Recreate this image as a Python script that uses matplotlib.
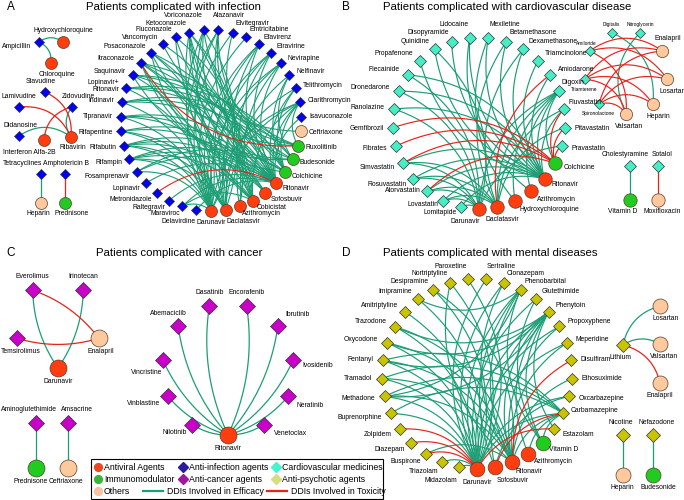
import numpy as np
import matplotlib.pyplot as plt
from matplotlib.patches import Rectangle

plt.rcParams['font.family'] = ['Liberation Sans', 'DejaVu Sans']

# ---------------- drug classes ----------------
COLOR = {'antiviral': '#ff3d0f', 'immuno': '#1fcc1f', 'other': '#fdc99d',
         'infection': '#0000f5', 'cardio': '#45eec5', 'cancer': '#c800c8',
         'psych': '#c8c400'}
EFF = '#1c9e74'
TOX = '#e8231c'

circle_class = {
    'Darunavir': 'antiviral', 'Daclatasvir': 'antiviral', 'Azithromycin': 'antiviral',
    'Cobicistat': 'antiviral', 'Sofosbuvir': 'antiviral', 'Ritonavir': 'antiviral',
    'Hydroxychloroquine': 'antiviral', 'Chloroquine': 'antiviral', 'Ribavirin': 'antiviral',
    'Interferon Alfa-2B': 'antiviral',
    'Ruxolitinib': 'immuno', 'Budesonide': 'immuno', 'Colchicine': 'immuno',
    'Prednisone': 'immuno', 'Vitamin D': 'immuno',
    'Ceftriaxone': 'other', 'Heparin': 'other', 'Enalapril': 'other',
    'Losartan': 'other', 'Valsartan': 'other', 'Moxifloxacin': 'other',
}

# ---------------- A: infection ----------------
a_ring = ['Darunavir', 'Delavirdine', 'Maraviroc', 'Raltegravir', 'Metronidazole', 'Lopinavir',
          'Fosamprenavir', 'Rifampin', 'Rifabutin', 'Rifapentine', 'Tipranavir', 'Indinavir',
          'Lopinavir+Ritonavir', 'Saquinavir', 'Itraconazole', 'Posaconazole', 'Vancomycin',
          'Fluconazole', 'Ketoconazole', 'Voriconazole', 'Atazanavir', 'Elvitegravir',
          'Emtricitabine', 'Efavirenz', 'Etravirine', 'Nevirapine', 'Nelfinavir', 'Telithromycin',
          'Clarithromycin', 'Isavuconazole', 'Ceftriaxone', 'Ruxolitinib', 'Budesonide',
          'Colchicine', 'Ritonavir', 'Sofosbuvir', 'Cobicistat', 'Azithromycin', 'Daclatasvir']
a_eff = {
    'Ritonavir': ['Saquinavir', 'Indinavir', 'Tipranavir', 'Lopinavir', 'Fosamprenavir', 'Rifampin',
                  'Rifabutin', 'Rifapentine', 'Itraconazole', 'Ketoconazole', 'Voriconazole',
                  'Posaconazole', 'Fluconazole', 'Atazanavir', 'Elvitegravir', 'Efavirenz',
                  'Nevirapine', 'Etravirine', 'Clarithromycin', 'Telithromycin', 'Isavuconazole',
                  'Maraviroc', 'Delavirdine', 'Raltegravir', 'Lopinavir+Ritonavir'],
    'Darunavir': ['Lopinavir+Ritonavir', 'Saquinavir', 'Indinavir', 'Itraconazole', 'Posaconazole',
                  'Ketoconazole', 'Voriconazole', 'Atazanavir', 'Elvitegravir', 'Efavirenz',
                  'Etravirine', 'Nevirapine', 'Clarithromycin', 'Rifampin', 'Rifabutin',
                  'Rifapentine', 'Tipranavir', 'Fosamprenavir', 'Maraviroc', 'Emtricitabine'],
    'Daclatasvir': ['Rifampin', 'Rifabutin', 'Rifapentine', 'Efavirenz', 'Etravirine', 'Nevirapine',
                    'Atazanavir', 'Ketoconazole', 'Itraconazole', 'Voriconazole', 'Posaconazole',
                    'Clarithromycin', 'Telithromycin'],
    'Cobicistat': ['Itraconazole', 'Ketoconazole', 'Voriconazole', 'Posaconazole', 'Clarithromycin',
                   'Rifampin', 'Rifabutin', 'Efavirenz', 'Etravirine', 'Nevirapine', 'Maraviroc',
                   'Tipranavir', 'Saquinavir'],
    'Sofosbuvir': ['Rifampin', 'Rifabutin', 'Rifapentine', 'Tipranavir'],
    'Azithromycin': ['Nelfinavir', 'Fluconazole', 'Vancomycin'],
    'Colchicine': ['Clarithromycin', 'Telithromycin', 'Ketoconazole', 'Itraconazole', 'Indinavir',
                   'Saquinavir', 'Lopinavir+Ritonavir', 'Atazanavir', 'Fosamprenavir', 'Nelfinavir'],
    'Budesonide': ['Ketoconazole', 'Itraconazole', 'Saquinavir', 'Indinavir',
                   'Lopinavir+Ritonavir', 'Nelfinavir', 'Atazanavir'],
    'Ruxolitinib': ['Ketoconazole', 'Fluconazole', 'Clarithromycin', 'Voriconazole', 'Posaconazole'],
    'Ceftriaxone': ['Vancomycin'],
}
a_tox = [('Itraconazole', 'Ruxolitinib'), ('Metronidazole', 'Ritonavir')]

a_tri = ['Chloroquine', 'Ampicillin', 'Hydroxychloroquine']
a_tri_eff = [('Ampicillin', 'Hydroxychloroquine'), ('Ampicillin', 'Chloroquine')]

a_nrti = ['Stavudine', 'Lamivudine', 'Zidovudine', 'Didanosine', 'Interferon Alfa-2B', 'Ribavirin']
a_nrti_eff = [('Zidovudine', 'Ribavirin'), ('Didanosine', 'Ribavirin')]
a_nrti_tox = [('Stavudine', 'Ribavirin'), ('Lamivudine', 'Ribavirin'),
              ('Zidovudine', 'Interferon Alfa-2B')]

a_pairs = [('Tetracyclines', 'Heparin', 'eff'), ('Amphotericin B', 'Prednisone', 'tox')]

# ---------------- B: cardiovascular ----------------
b_ring = ['Darunavir', 'Lomitapide', 'Lovastatin', 'Atorvastatin', 'Rosuvastatin', 'Simvastatin',
          'Fibrates', 'Gemfibrozil', 'Ranolazine', 'Dronedarone', 'Flecainide', 'Propafenone',
          'Quinidine', 'Disopyramide', 'Lidocaine', 'Mexiletine', 'Betamethasone',
          'Dexamethasone', 'Triamcinolone', 'Amiodarone', 'Digoxin', 'Fluvastatin',
          'Pitavastatin', 'Pravastatin', 'Colchicine', 'Ritonavir', 'Azithromycin',
          'Hydroxychloroquine', 'Daclatasvir']
b_eff = {
    'Ritonavir': ['Lomitapide', 'Lovastatin', 'Atorvastatin', 'Rosuvastatin', 'Simvastatin',
                  'Ranolazine', 'Dronedarone', 'Flecainide', 'Propafenone', 'Quinidine',
                  'Disopyramide', 'Lidocaine', 'Mexiletine', 'Betamethasone', 'Dexamethasone',
                  'Triamcinolone', 'Digoxin', 'Amiodarone', 'Fluvastatin'],
    'Darunavir': ['Lomitapide', 'Lovastatin', 'Simvastatin', 'Atorvastatin', 'Rosuvastatin',
                  'Pravastatin', 'Dronedarone', 'Ranolazine', 'Quinidine', 'Digoxin', 'Flecainide'],
    'Daclatasvir': ['Digoxin', 'Rosuvastatin', 'Atorvastatin', 'Fluvastatin', 'Pitavastatin',
                    'Simvastatin', 'Lovastatin', 'Dexamethasone', 'Betamethasone'],
    'Hydroxychloroquine': ['Digoxin', 'Mexiletine'],
    'Azithromycin': ['Digoxin', 'Lidocaine'],
    'Colchicine': ['Digoxin'],
}
b_tox = [('Gemfibrozil', 'Colchicine'), ('Fibrates', 'Colchicine'), ('Simvastatin', 'Colchicine'),
         ('Atorvastatin', 'Colchicine'), ('Fluvastatin', 'Colchicine'),
         ('Pravastatin', 'Colchicine'), ('Pitavastatin', 'Colchicine'),
         ('Amiodarone', 'Daclatasvir')]

b_diur = ['Valsartan', 'Spironolactone', 'Triamterene', 'Amiloride', 'Digitalis',
          'Nitroglycerin', 'Enalapril', 'Losartan', 'Heparin']
b_diur_eff = [('Digitalis', 'Heparin'), ('Nitroglycerin', 'Valsartan')]
b_diur_tox = [('Amiloride', 'Enalapril'), ('Amiloride', 'Losartan'), ('Amiloride', 'Valsartan'),
              ('Triamterene', 'Enalapril'), ('Triamterene', 'Losartan'),
              ('Triamterene', 'Valsartan'), ('Triamterene', 'Heparin'),
              ('Spironolactone', 'Enalapril'), ('Spironolactone', 'Losartan'),
              ('Spironolactone', 'Valsartan'), ('Spironolactone', 'Heparin')]
b_pairs = [('Cholestyramine', 'Vitamin D', 'eff'), ('Sotalol', 'Moxifloxacin', 'tox')]

# ---------------- C: cancer ----------------
c_star = ['Ritonavir', 'Nilotinib', 'Vinblastine', 'Vincristine', 'Abemaciclib', 'Dasatinib',
          'Encorafenib', 'Ibrutinib', 'Ivosidenib', 'Neratinib', 'Venetoclax']
c_small = ['Darunavir', 'Temsirolimus', 'Everolimus', 'Irinotecan', 'Enalapril']
c_small_eff = [('Everolimus', 'Darunavir'), ('Irinotecan', 'Darunavir')]
c_small_tox = [('Everolimus', 'Enalapril'), ('Temsirolimus', 'Enalapril')]
c_pairs = [('Aminoglutethimide', 'Prednisone', 'eff'), ('Amsacrine', 'Ceftriaxone', 'eff')]

# ---------------- D: mental ----------------
d_ring = ['Darunavir', 'Midazolam', 'Triazolam', 'Buspirone', 'Diazepam', 'Zolpidem',
          'Buprenorphine', 'Methadone', 'Tramadol', 'Fentanyl', 'Oxycodone', 'Trazodone',
          'Amitriptyline', 'Imipramine', 'Desipramine', 'Nortriptyline', 'Paroxetine',
          'Sertraline', 'Clonazepam', 'Phenobarbital', 'Glutethimide', 'Phenytoin',
          'Propoxyphene', 'Meperidine', 'Disulfiram', 'Ethosuximide', 'Oxcarbazepine',
          'Carbamazepine', 'Estazolam', 'Vitamin D', 'Azithromycin', 'Ritonavir', 'Sofosbuvir']
d_eff = {
    'Darunavir': ['Midazolam', 'Triazolam', 'Buprenorphine', 'Methadone', 'Tramadol', 'Fentanyl',
                  'Oxycodone', 'Trazodone', 'Amitriptyline', 'Imipramine', 'Desipramine',
                  'Nortriptyline', 'Paroxetine', 'Sertraline', 'Clonazepam', 'Phenobarbital',
                  'Phenytoin', 'Carbamazepine', 'Oxcarbazepine', 'Meperidine', 'Propoxyphene',
                  'Glutethimide'],
    'Sofosbuvir': ['Phenobarbital', 'Phenytoin', 'Oxcarbazepine'],
    'Ritonavir': ['Fentanyl', 'Tramadol', 'Methadone', 'Oxycodone', 'Meperidine', 'Propoxyphene',
                  'Phenytoin', 'Carbamazepine', 'Phenobarbital', 'Desipramine', 'Nortriptyline',
                  'Clonazepam', 'Trazodone', 'Buspirone', 'Ethosuximide'],
    'Azithromycin': ['Phenytoin', 'Carbamazepine'],
    'Vitamin D': ['Phenytoin', 'Phenobarbital', 'Glutethimide', 'Carbamazepine'],
    'Phenytoin': ['Methadone', 'Fentanyl', 'Oxycodone', 'Trazodone', 'Estazolam'],
    'Carbamazepine': ['Tramadol', 'Methadone', 'Fentanyl', 'Buprenorphine'],
    'Phenobarbital': ['Methadone', 'Imipramine'],
}
d_tox = [('Zolpidem', 'Darunavir'), ('Diazepam', 'Darunavir'), ('Buspirone', 'Darunavir'),
         ('Estazolam', 'Darunavir'), ('Disulfiram', 'Ritonavir'), ('Carbamazepine', 'Sofosbuvir')]
d_li_eff = [('Lithium', 'Losartan'), ('Lithium', 'Valsartan')]
d_li_tox = [('Lithium', 'Enalapril')]
d_pairs = [('Nicotine', 'Heparin', 'eff'), ('Nefazodone', 'Budesonide', 'eff')]

legend_items = [('o', '#f2461f', 'Antiviral Agents'), ('o', '#3cb33c', 'Immunomodulator'),
                ('o', '#f8c2a0', 'Others'), ('D', '#2b1c9e', 'Anti-infection agents'),
                ('D', '#a0189a', 'Anti-cancer agents'), ('-', EFF, 'DDIs Involved in Efficacy'),
                ('D', '#40f5d0', 'Cardiovascular medicines'), ('D', '#d8dc80', 'Anti-psychotic agents'),
                ('-', TOX, 'DDIs Involved in Toxicity')]


# ---------------- helpers ----------------
def ring(names, cx, cy, r):
    th = np.arange(len(names)) * 2 * np.pi / len(names)
    return {k: (cx - r * np.sin(t), cy + r * np.cos(t)) for k, t in zip(names, th)}


def pairs_layout(pairs, x0, dx, ytop, ybot):
    pos = {}
    for i, (a, b, _) in enumerate(pairs):
        pos[a] = (x0 + i * dx, ytop)
        pos[b] = (x0 + i * dx, ybot)
    return pos


def curve(ax, p, q, color, bend, mode='up', centre=None, lw=0.9):
    p = np.asarray(p, float)
    q = np.asarray(q, float)
    if q[0] < p[0] or (q[0] == p[0] and q[1] < p[1]):
        p, q = q, p
    d = q - p
    L = np.hypot(*d)
    n = np.array([d[1], -d[0]]) / L
    m = (p + q) / 2
    if mode in ('toward', 'away'):
        s = np.dot(np.asarray(centre) - m, n)
        if mode == 'away':
            s = -s
        if s < 0:
            n = -n
    c = m + n * bend * L
    t = np.linspace(0, 1, 50)[:, None]
    pts = (1 - t) ** 2 * p + 2 * (1 - t) * t * c + t ** 2 * q
    ax.plot(pts[:, 0], pts[:, 1], color=color, lw=lw, zorder=2 if color == TOX else 1,
            solid_capstyle='round')


def draw_edges(ax, pos, eff, tox, bend, mode='up', centre=None, lw=0.9):
    for a, b in eff:
        curve(ax, pos[a], pos[b], EFF, bend, mode, centre, lw)
    for a, b in tox:
        curve(ax, pos[a], pos[b], TOX, bend, mode, centre, lw)


def hub_edges(d):
    return [(h, t) for h, ts in d.items() for t in ts]


def draw_nodes(ax, pos, dcls, ms_d, ms_c):
    for k, (x, y) in pos.items():
        if k in circle_class:
            ax.plot(x, y, 'o', ms=ms_c, mfc=COLOR[circle_class[k]], mec='#5a3a2a', mew=0.5,
                    zorder=3)
        else:
            ax.plot(x, y, 'D', ms=ms_d, mfc=COLOR[dcls], mec='#333333', mew=0.5, zorder=3)


def label_text(k):
    return k.replace('+', '+\n')


def radial_labels(ax, pos, cx, cy, d, fixed=None, fs=4.9):
    fixed = fixed or {}
    for k, (x, y) in pos.items():
        if k in fixed:
            dx, dy, ha, va = fixed[k]
            ax.text(x + dx, y + dy, label_text(k), ha=ha, va=va, fontsize=fs, zorder=4,
                    linespacing=1.0)
            continue
        u = np.array([x - cx, y - cy])
        u /= np.hypot(*u)
        ha = 'right' if u[0] < -0.05 else ('left' if u[0] > 0.05 else 'center')
        va = 'bottom' if u[1] < -0.975 else ('top' if u[1] > 0.975 else 'center')
        ax.text(x + d * u[0], y + d * u[1], label_text(k), ha=ha, va=va, fontsize=fs,
                zorder=4, linespacing=1.0)


def side_labels(ax, pos, sides, d, fs=4.9):
    for k, spec in sides.items():
        spec = spec if isinstance(spec, tuple) else (spec,)
        side = spec[0]
        sx = spec[1] if len(spec) > 1 else 0
        sy = spec[2] if len(spec) > 2 else 0
        x, y = pos[k]
        if side == 'above':
            ax.text(x + sx, y - d + sy, k, ha='center', va='bottom', fontsize=fs, zorder=4)
        elif side == 'below':
            ax.text(x + sx, y + d + sy, k, ha='center', va='top', fontsize=fs, zorder=4)
        elif side == 'left':
            ax.text(x - d + sx, y + sy, k, ha='right', va='center', fontsize=fs, zorder=4)
        else:
            ax.text(x + d + sx, y + sy, k, ha='left', va='center', fontsize=fs, zorder=4)


def draw_pairs(ax, pairs, pos):
    for a, b, kind in pairs:
        curve(ax, pos[a], pos[b], EFF if kind == 'eff' else TOX, 0.0)


# ---------------- figure ----------------
fig = plt.figure(figsize=(6.84, 5.0), dpi=100)
ax = fig.add_axes([0, 0, 1, 1])
ax.set_xlim(0, 684)
ax.set_ylim(500, 0)
ax.axis('off')

for x, y, s in [(173, 7, 'Patients complicated with infection'),
                (507, 7, 'Patients complicated with cardiovascular disease'),
                (179, 253, 'Patients complicated with cancer'),
                (490, 253, 'Patients complicated with mental diseases')]:
    ax.text(x, y, s, ha='center', va='center', fontsize=8.2)
for x, y, s in [(11, 7, 'A'), (346, 7, 'B'), (11, 253, 'C'), (346, 253, 'D')]:
    ax.text(x, y, s, ha='center', va='center', fontsize=8.5)

# ---- A ----
pa = ring(a_ring, 211, 120.5, 90.5)
draw_edges(ax, pa, hub_edges(a_eff), a_tox, 0.3, 'toward', (211, 120.5), lw=0.8)
draw_nodes(ax, pa, 'infection', 5.4, 8.6)
radial_labels(ax, pa, 211, 120.5, 8,
              {'Voriconazole': (-1, -11, 'right', 'bottom'),
               'Atazanavir': (-5, -11, 'left', 'bottom'),
               'Ketoconazole': (-3, -6, 'right', 'bottom'),
               'Elvitegravir': (3, -6, 'left', 'bottom')})

pt = ring(a_tri, 51, 49, 14)
draw_edges(ax, pt, a_tri_eff, [], 0.35)
draw_nodes(ax, pt, 'infection', 5.4, 8.6)
side_labels(ax, pt, {'Hydroxychloroquine': 'above', 'Ampicillin': ('left', 0, 4),
                     'Chloroquine': ('below', 6)}, 8)

pn = {'Stavudine': (45, 92), 'Lamivudine': (19, 107), 'Zidovudine': (72, 107),
      'Didanosine': (19, 136), 'Interferon Alfa-2B': (44, 140), 'Ribavirin': (71, 137)}
draw_edges(ax, pn, a_nrti_eff, a_nrti_tox, 0.35)
draw_nodes(ax, pn, 'infection', 5.4, 8.6)
side_labels(ax, pn, {'Stavudine': ('above', -4), 'Lamivudine': 'above',
                     'Zidovudine': ('above', 6), 'Didanosine': ('above', 2),
                     'Interferon Alfa-2B': ('below', -15, 2), 'Ribavirin': ('below', 2)}, 7)

pp = pairs_layout(a_pairs, 41, 24, 174, 203)
draw_pairs(ax, a_pairs, pp)
draw_nodes(ax, pp, 'infection', 5.2, 8.6)
side_labels(ax, pp, {'Tetracyclines': ('above', -19), 'Amphotericin B': ('above', 1),
                     'Heparin': ('below', -3), 'Prednisone': ('below', 7)}, 7)

# ---- B ----
pb = ring(b_ring, 479, 123, 86)
draw_edges(ax, pb, hub_edges(b_eff), b_tox, 0.3, 'toward', (479, 123), lw=0.85)
draw_nodes(ax, pb, 'cardio', 6.3, 9.7)
radial_labels(ax, pb, 479, 123, 9.5,
              {'Darunavir': (1, 9, 'right', 'top'), 'Daclatasvir': (5, 9, 'center', 'top'),
               'Lomitapide': (-4, 6, 'right', 'center'),
               'Lovastatin': (-5, 3, 'right', 'center'),
               'Atorvastatin': (-6, -1, 'right', 'center'),
               'Digoxin': (3, -5, 'left', 'bottom'), 'Fluvastatin': (5, -7, 'left', 'center')})

pd_ = ring(b_diur, 626, 72, 42)
draw_edges(ax, pd_, b_diur_eff, b_diur_tox, 0.35, lw=0.85)
draw_nodes(ax, pd_, 'cardio', 5.2, 8.8)
side_labels(ax, pd_, {'Valsartan': ('below', 3, 1), 'Enalapril': ('above', 5, -1),
                      'Losartan': ('below', 5, 1), 'Heparin': ('below', 5, 1)}, 8)
side_labels(ax, pd_, {'Spironolactone': ('below', -1, 0), 'Triamterene': ('below', 0, 1),
                      'Amiloride': ('above', -3, 2), 'Digitalis': ('above', 0, 1),
                      'Nitroglycerin': ('above', 0, 1)}, 7, fs=3.5)

pbp = pairs_layout(b_pairs, 630, 28, 166, 200)
draw_pairs(ax, b_pairs, pbp)
draw_nodes(ax, pbp, 'cardio', 6.1, 9.6)
side_labels(ax, pbp, {'Cholestyramine': ('above', -5), 'Sotalol': ('above', 4),
                      'Vitamin D': ('below', -7), 'Moxifloxacin': ('below', 4)}, 8)

# ---- C ----
pc = ring(c_star, 228, 369, 66)
draw_edges(ax, pc, [(k, 'Ritonavir') for k in c_star[1:]], [], 0.15, 'away', (228, 369))
draw_nodes(ax, pc, 'cancer', 8.0, 12.2)
radial_labels(ax, pc, 228, 369, 12,
              {'Ritonavir': (0, 10, 'center', 'top'),
               'Nilotinib': (-5, 8, 'right', 'center'),
               'Vinblastine': (-8, 7, 'right', 'center'),
               'Vincristine': (0, 13, 'right', 'center'),
               'Abemaciclib': (-10, -9, 'center', 'bottom'),
               'Dasatinib': (0, -10, 'center', 'bottom'),
               'Encorafenib': (0, -10, 'center', 'bottom'),
               'Ibrutinib': (7, -11, 'left', 'center'),
               'Ivosidenib': (9, 6, 'left', 'center'),
               'Neratinib': (8, 9, 'left', 'center'),
               'Venetoclax': (10, 9, 'left', 'center')})

pcs = ring(c_small, 58, 325, 43)
draw_edges(ax, pcs, c_small_eff, c_small_tox, 0.15, 'away', (58, 325))
draw_nodes(ax, pcs, 'cancer', 8.0, 12.2)
side_labels(ax, pcs, {'Everolimus': 'above', 'Irinotecan': 'above',
                      'Temsirolimus': ('below', 4), 'Enalapril': ('below', 2),
                      'Darunavir': 'below'}, 10)

pcp = pairs_layout(c_pairs, 36, 32, 423, 468)
draw_pairs(ax, c_pairs, pcp)
draw_nodes(ax, pcp, 'cancer', 8.0, 12.2)
side_labels(ax, pcp, {'Aminoglutethimide': ('above', -7), 'Amsacrine': ('above', 9),
                      'Prednisone': ('below', -5), 'Ceftriaxone': ('below', -2)}, 10)

# ---- D ----
pdd = ring(d_ring, 477, 374, 95)
draw_edges(ax, pdd, hub_edges(d_eff), d_tox, 0.3, 'toward', (477, 374), lw=0.85)
draw_nodes(ax, pdd, 'psych', 6.5, 10.6)
radial_labels(ax, pdd, 477, 374, 9.5,
              {'Carbamazepine': (7, -3, 'left', 'center')})

pli = {'Lithium': (623, 345), 'Losartan': (660, 306), 'Valsartan': (660, 344),
       'Enalapril': (660, 383)}
draw_edges(ax, pli, d_li_eff, d_li_tox, 0.3)
draw_nodes(ax, pli, 'psych', 7.4, 10.8)
side_labels(ax, pli, {'Lithium': ('below', -3), 'Losartan': ('below', 6),
                      'Valsartan': ('below', 4), 'Enalapril': 'below'}, 9)

pdp = pairs_layout(d_pairs, 623, 30, 435, 475)
draw_pairs(ax, d_pairs, pdp)
draw_nodes(ax, pdp, 'psych', 7.4, 10.8)
side_labels(ax, pdp, {'Nicotine': ('above', -2), 'Nefazodone': ('above', 4),
                      'Heparin': ('below', -1), 'Budesonide': ('below', 5)}, 9)

# ---- legend (drawn as a boxed key) ----
key_slots = [(98, 467), (98, 479), (98, 491), (183, 467), (183, 479), (143, 491),
             (276, 467), (276, 479), (267, 491)]
ax.add_patch(Rectangle((91, 459), 292, 40, facecolor='white', edgecolor='black',
                       lw=0.8, zorder=5))
for (m, c, lab), (x, y) in zip(legend_items, key_slots):
    if m == '-':
        ax.plot([x, x + 20], [y, y], color=c, lw=1.6, zorder=6)
        tx = x + 24
    else:
        ax.plot(x, y, m, ms=5.6 if m == 'o' else 5.0, mfc=c, mec=c, zorder=6)
        tx = x + 6
    ax.text(tx, y, lab, ha='left', va='center', fontsize=6.3, zorder=6)

fig.savefig('out.png', dpi=100)
